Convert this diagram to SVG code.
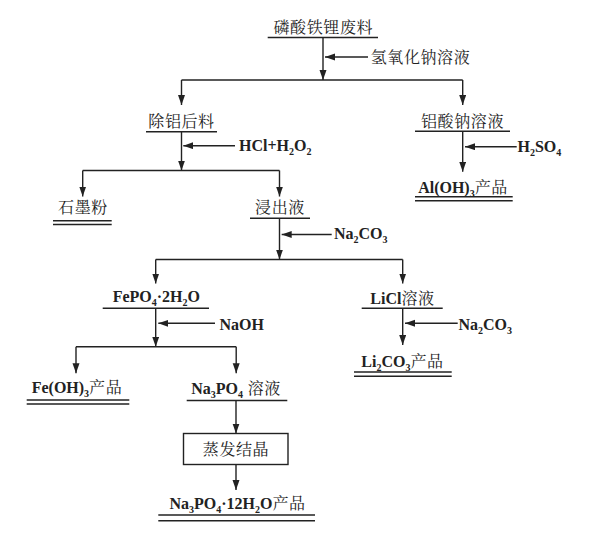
<svg xmlns="http://www.w3.org/2000/svg" width="599" height="533" viewBox="0 0 599 533">
<style>
  text { font-family: "Liberation Serif", "Noto Serif CJK SC", "Noto Sans CJK SC", serif; font-size: 16px; font-weight: bold; fill: #222; }
  .cn { font-family: "Noto Serif CJK SC", "Noto Sans CJK SC", sans-serif; font-weight: normal; font-size: 16px; letter-spacing: 0.6px; }
  .sub { font-size: 10px; }
  .c { text-anchor: middle; }
  .ul { stroke: #222; stroke-width: 1.4; fill: none; }
  .ln { stroke: #222; stroke-width: 1.4; fill: none; }
  .ar { marker-end: url(#ah); }
  .box { stroke: #222; stroke-width: 1.4; fill: #fff; }
</style>
<defs>
  <marker id="ah" markerUnits="userSpaceOnUse" markerWidth="11" markerHeight="8" refX="10" refY="3.5" orient="auto">
    <path d="M0,0 L10,3.5 L0,7 z" fill="#222"/>
  </marker>
</defs>
<rect width="599" height="533" fill="#fff"/>

<g id="connectors">
  <!-- top -->
  <line class="ln ar" x1="323" y1="37.5" x2="323" y2="80"/>
  <line class="ln ar" x1="368" y1="57" x2="325" y2="57"/>
  <line class="ln" x1="181.5" y1="80" x2="462.7" y2="80"/>
  <line class="ln ar" x1="181.5" y1="80" x2="181.5" y2="105"/>
  <line class="ln ar" x1="462.7" y1="80" x2="462.7" y2="105"/>
  <!-- 除铝后料 -->
  <line class="ln ar" x1="181.5" y1="131.7" x2="181.5" y2="170.5"/>
  <line class="ln ar" x1="235" y1="145.7" x2="183.3" y2="145.7"/>
  <line class="ln" x1="82.7" y1="170.5" x2="279.5" y2="170.5"/>
  <line class="ln ar" x1="82.7" y1="170.5" x2="82.7" y2="196.5"/>
  <line class="ln ar" x1="279.5" y1="170.5" x2="279.5" y2="196.5"/>
  <!-- 铝酸钠溶液 -->
  <line class="ln ar" x1="462.7" y1="131" x2="462.7" y2="171.7"/>
  <line class="ln ar" x1="516.7" y1="146.7" x2="465" y2="146.7"/>
  <!-- 浸出液 -->
  <line class="ln ar" x1="279.5" y1="218.3" x2="279.5" y2="259.5"/>
  <line class="ln ar" x1="331.7" y1="234.5" x2="281.7" y2="234.5"/>
  <line class="ln" x1="155.7" y1="259.5" x2="402.7" y2="259.5"/>
  <line class="ln ar" x1="155.7" y1="259.5" x2="155.7" y2="283.5"/>
  <line class="ln ar" x1="402.7" y1="259.5" x2="402.7" y2="283.5"/>
  <!-- FePO4 -->
  <line class="ln ar" x1="155.7" y1="308.3" x2="155.7" y2="346.7"/>
  <line class="ln ar" x1="215" y1="323.3" x2="158.3" y2="323.3"/>
  <line class="ln" x1="76" y1="346.7" x2="236.2" y2="346.7"/>
  <line class="ln ar" x1="76" y1="346.7" x2="76" y2="373.3"/>
  <line class="ln ar" x1="236.2" y1="346.7" x2="236.2" y2="373.3"/>
  <!-- LiCl -->
  <line class="ln ar" x1="402.7" y1="308.3" x2="402.7" y2="345"/>
  <line class="ln ar" x1="457.7" y1="323.3" x2="405" y2="323.3"/>
  <!-- Na3PO4 -->
  <line class="ln ar" x1="236" y1="400.5" x2="236" y2="433.5"/>
  <line class="ln ar" x1="236" y1="464.5" x2="236" y2="490"/>
</g>

<g id="reagents">
  <text x="370.7" y="63"><tspan class="cn">氢氧化钠溶液</tspan></text>
  <text x="239" y="151">HCl+H<tspan class="sub" dy="4">2</tspan><tspan dy="-4">O</tspan><tspan class="sub" dy="4">2</tspan></text>
  <text x="517.5" y="152">H<tspan class="sub" dy="4">2</tspan><tspan dy="-4">SO</tspan><tspan class="sub" dy="4">4</tspan></text>
  <text x="334" y="239">Na<tspan class="sub" dy="4">2</tspan><tspan dy="-4">CO</tspan><tspan class="sub" dy="4">3</tspan></text>
  <text x="219.5" y="329.5">NaOH</text>
  <text x="458.5" y="330">Na<tspan class="sub" dy="4">2</tspan><tspan dy="-4">CO</tspan><tspan class="sub" dy="4">3</tspan></text>
</g>

<g id="n1">
  <text class="c cn" x="323.3" y="33">磷酸铁锂废料</text>
  <line class="ul" x1="267.7" y1="37.5" x2="378" y2="37.5"/>
</g>
<g id="n2">
  <text class="c cn" x="181.5" y="126.5">除铝后料</text>
  <line class="ul" x1="146" y1="131.7" x2="217" y2="131.7"/>
</g>
<g id="n3">
  <text class="c cn" x="462.5" y="126.5">铝酸钠溶液</text>
  <line class="ul" x1="415" y1="131.2" x2="510" y2="131.2"/>
</g>
<g id="n4">
  <text class="c cn" x="83" y="213">石墨粉</text>
  <line class="ul" x1="53" y1="220.7" x2="111.7" y2="220.7"/>
  <line class="ul" x1="53" y1="224.5" x2="111.7" y2="224.5"/>
</g>
<g id="n5">
  <text class="c cn" x="280" y="213">浸出液</text>
  <line class="ul" x1="250" y1="218.3" x2="310" y2="218.3"/>
</g>
<g id="n6">
  <text class="c" x="463" y="193">Al(OH)<tspan class="sub" dy="4">3</tspan><tspan class="cn" dy="-4">产品</tspan></text>
  <line class="ul" x1="415" y1="196.7" x2="512.7" y2="196.7"/>
  <line class="ul" x1="415" y1="200.7" x2="512.7" y2="200.7"/>
</g>
<g id="n7">
  <text class="c" x="156.3" y="302">FePO<tspan class="sub" dy="4">4</tspan><tspan dy="-4">·2H</tspan><tspan class="sub" dy="4">2</tspan><tspan dy="-4">O</tspan></text>
  <line class="ul" x1="102.7" y1="308.3" x2="209" y2="308.3"/>
</g>
<g id="n8">
  <text class="c" x="402.5" y="304">LiCl<tspan class="cn">溶液</tspan></text>
  <line class="ul" x1="361.7" y1="308.3" x2="442.7" y2="308.3"/>
</g>
<g id="n9">
  <text class="c" x="402.5" y="367">Li<tspan class="sub" dy="4">2</tspan><tspan dy="-4">CO</tspan><tspan class="sub" dy="4">3</tspan><tspan class="cn" dy="-4">产品</tspan></text>
  <line class="ul" x1="354" y1="372" x2="451.7" y2="372"/>
  <line class="ul" x1="354" y1="376.2" x2="451.7" y2="376.2"/>
</g>
<g id="n10">
  <text class="c" x="77" y="393">Fe(OH)<tspan class="sub" dy="4">3</tspan><tspan class="cn" dy="-4">产品</tspan></text>
  <line class="ul" x1="26.7" y1="400" x2="129.3" y2="400"/>
  <line class="ul" x1="26.7" y1="404" x2="129.3" y2="404"/>
</g>
<g id="n11">
  <text class="c" x="236" y="394">Na<tspan class="sub" dy="4">3</tspan><tspan dy="-4">PO</tspan><tspan class="sub" dy="4">4</tspan><tspan class="cn" dy="-4"> 溶液</tspan></text>
  <line class="ul" x1="186.7" y1="400.5" x2="287.3" y2="400.5"/>
</g>
<g id="n12">
  <rect class="box" x="183.5" y="433.5" width="104.5" height="31"/>
  <text class="c cn" x="236" y="455">蒸发结晶</text>
</g>
<g id="n13">
  <text class="c" x="237.5" y="508.5">Na<tspan class="sub" dy="4">3</tspan><tspan dy="-4">PO</tspan><tspan class="sub" dy="4">4</tspan><tspan dy="-4">·12H</tspan><tspan class="sub" dy="4">2</tspan><tspan dy="-4">O</tspan><tspan class="cn">产品</tspan></text>
  <line class="ul" x1="158.3" y1="515" x2="315" y2="515"/>
  <line class="ul" x1="158.3" y1="520.7" x2="315" y2="520.7"/>
</g>
</svg>
